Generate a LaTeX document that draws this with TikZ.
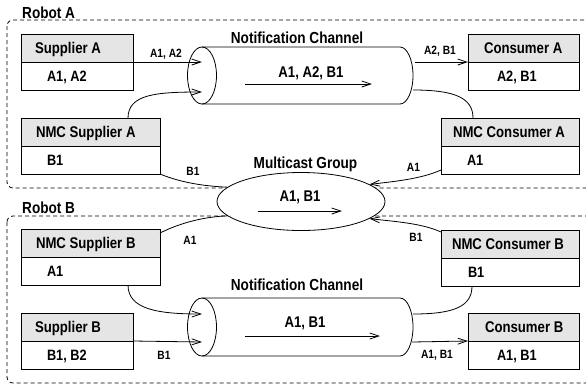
\documentclass[tikz,border=0pt]{standalone}
\usepackage{fontspec}
\setmainfont{Liberation Sans}[FakeStretch=0.85,BoldFont={Liberation Sans Bold},BoldFeatures={FakeStretch=0.85}]
\usetikzlibrary{arrows.meta,shapes.geometric}
\newcommand{\lbx}[2]{\makebox[#1][l]{#2}}
\begin{document}
\begin{tikzpicture}[x=1pt,y=-1pt,
  base/.style={line width=0.8pt},
  hdr/.style={draw, line width=0.8pt, fill=gray!20, anchor=north west, minimum height=28pt, inner xsep=0pt, inner ysep=0pt, outer sep=0pt, text height=11pt, text depth=0pt, font=\fontsize{15.5}{18}\selectfont\bfseries},
  cnt/.style={draw, line width=0.8pt, anchor=north west, minimum height=28pt, inner xsep=0pt, inner ysep=0pt, outer sep=0pt, text height=10.5pt, text depth=0pt, font=\fontsize{15}{18}\selectfont\bfseries},
  lbl/.style={inner sep=0pt, text height=8.6pt, text depth=0pt, font=\fontsize{12}{14}\selectfont\bfseries},
  ttl/.style={inner sep=0pt, text height=11.5pt, text depth=0pt, font=\fontsize{16}{19}\selectfont\bfseries},
  inn/.style={inner sep=0pt, text height=11pt, text depth=0pt, font=\fontsize{15.5}{18}\selectfont\bfseries},
  arr/.style={line width=0.8pt, -{Straight Barb[length=9pt,width=6pt]}},
  robot/.style={draw, line width=0.8pt, dash pattern=on 4pt off 3pt, rounded corners=6pt},
  mcast/.style={draw, line width=0.8pt, ellipse, fill=white, minimum width=168pt, minimum height=58pt, inner sep=0pt}
]
\useasboundingbox (0,0) rectangle (586,384);

% robot regions
\draw[robot] (7,20) rectangle (600,188);
\draw[robot] (7,216) rectangle (600,383);
\node[ttl, anchor=west] (robA) at (22,12.5) {Robot A};
\node[ttl, anchor=west] (robB) at (22,208) {Robot B};

% Robot A boxes (header text indented by padding inside the fixed-width box)
\node[hdr, minimum width=112pt] (supA) at (21,34) {\hspace{14pt}\lbx{98pt}{Supplier A}};
\node[cnt, minimum width=112pt] (supAc) at (supA.south west) {\hspace{26pt}\lbx{86pt}{A1, A2}};
\node[hdr, minimum width=139pt] (nsA) at (21,118) {\hspace{15pt}\lbx{124pt}{NMC Supplier A}};
\node[cnt, minimum width=139pt] (nsAc) at (nsA.south west) {\hspace{26pt}\lbx{113pt}{B1}};
\node[hdr, minimum width=111pt] (conA) at (468,34) {\hspace{16pt}\lbx{95pt}{Consumer A}};
\node[cnt, minimum width=111pt] (conAc) at (conA.south west) {\hspace{29pt}\lbx{82pt}{A2, B1}};
\node[hdr, minimum width=138pt] (ncA) at (441,118) {\hspace{12pt}\lbx{126pt}{NMC Consumer A}};
\node[cnt, minimum width=138pt] (ncAc) at (ncA.south west) {\hspace{26pt}\lbx{112pt}{A1}};

% Robot B boxes
\node[hdr, minimum width=139pt] (nsB) at (21,229) {\hspace{15pt}\lbx{124pt}{NMC Supplier B}};
\node[cnt, minimum width=139pt] (nsBc) at (nsB.south west) {\hspace{26pt}\lbx{113pt}{A1}};
\node[hdr, minimum width=112pt] (supB) at (21,313) {\hspace{14pt}\lbx{98pt}{Supplier B}};
\node[cnt, minimum width=112pt] (supBc) at (supB.south west) {\hspace{26pt}\lbx{86pt}{B1, B2}};
\node[hdr, minimum width=138pt] (ncB) at (441,230) {\hspace{11pt}\lbx{127pt}{NMC Consumer B}};
\node[cnt, minimum width=138pt] (ncBc) at (ncB.south west) {\hspace{27pt}\lbx{111pt}{B1}};
\node[hdr, minimum width=111pt] (conB) at (468,313) {\hspace{17pt}\lbx{94pt}{Consumer B}};
\node[cnt, minimum width=111pt] (conBc) at (conB.south west) {\hspace{29pt}\lbx{82pt}{A1, B1}};

% Notification channel A
\draw[base] (202,47) -- (400,47) arc[start angle=-90,end angle=90,x radius=13,y radius=28.5] -- (202,104);
\draw[base] (202,75.5) ellipse[x radius=14.5,y radius=28.5];
\node[ttl] (chAt) at (297,38) {Notification Channel};
\node[inn] (chAx) at (311,72) {A1, A2, B1};
\coordinate (chAas) at (245,84);
\coordinate (chAae) at (372,84);
\draw[arr] (chAas) -- (chAae);
\coordinate (chAi1) at (202,62);
\coordinate (chAi2) at (202,92);
\coordinate (chAo1) at (415,62);
\coordinate (chAo2) at (413,90);

% Notification channel B
\draw[base] (202,298) -- (400,298) arc[start angle=-90,end angle=90,x radius=13,y radius=29] -- (202,356);
\draw[base] (202,327) ellipse[x radius=14.5,y radius=29];
\node[ttl] (chBt) at (297,285) {Notification Channel};
\node[inn] (chBx) at (305,322) {A1, B1};
\coordinate (chBas) at (245,336);
\coordinate (chBae) at (380,336);
\draw[arr] (chBas) -- (chBae);
\coordinate (chBi1) at (202,314);
\coordinate (chBi2) at (202,342);
\coordinate (chBo1) at (412,342);
\coordinate (chBo2) at (413,314);

% Multicast group
\node[mcast] (mc) at (301,201.5) {};
\node[ttl] (mct) at (305.5,163) {Multicast Group};
\node[inn] (mcx) at (300,196) {A1, B1};
\coordinate (mcas) at (258,211);
\coordinate (mcae) at (342,211);
\draw[arr] (mcas) -- (mcae);

% Robot A connectors
\draw[arr] (supA.south east) -- (chAi1);
\node[lbl] (lA1) at (166,53) {A1, A2};
\draw[arr] ([xshift=107pt]nsA.north west) .. controls +(0,-24) and +(-45,0) .. (chAi2);
\draw[arr] (chAo1) -- (conA.south west);
\node[lbl] (lA2) at (440,50.5) {A2, B1};
\draw[base] (chAo2) .. controls +(42,0) and +(0,-20) .. ([xshift=32pt]ncA.north west);
\draw[base] (nsAc.south east) .. controls +(22,9) and +(-22,-1) .. (mc.169);
\node[lbl] (lA3) at (193,171.5) {B1};
\draw[arr] ([yshift=4pt]ncAc.south west) .. controls +(-20,9) and +(25,-3) .. (mc.14);
\node[lbl] (lA4) at (413.5,167) {A1};

% Robot B connectors
\draw[base] ([yshift=-4pt]nsB.north east) .. controls +(22,-11) and +(-22,1) .. (mc.191);
\node[lbl] (lB1) at (190,240.5) {A1};
\draw[arr] ([xshift=107pt]nsBc.south west) .. controls +(0,24) and +(-45,0) .. (chBi1);
\draw[arr] (supB.south east) -- (chBi2);
\node[lbl] (lB2) at (164,355) {B1};
\draw[base] (chBo2) .. controls +(42,0) and +(0,20) .. ([xshift=31pt]ncBc.south west);
\draw[arr] (chBo1) -- (conB.south west);
\node[lbl] (lB3) at (437,354.5) {A1, B1};
\draw[arr] ([yshift=-2pt]ncB.north west) .. controls +(-20,-9) and +(25,3) .. (mc.346);
\node[lbl] (lB4) at (416,237) {B1};
\end{tikzpicture}
\end{document}
